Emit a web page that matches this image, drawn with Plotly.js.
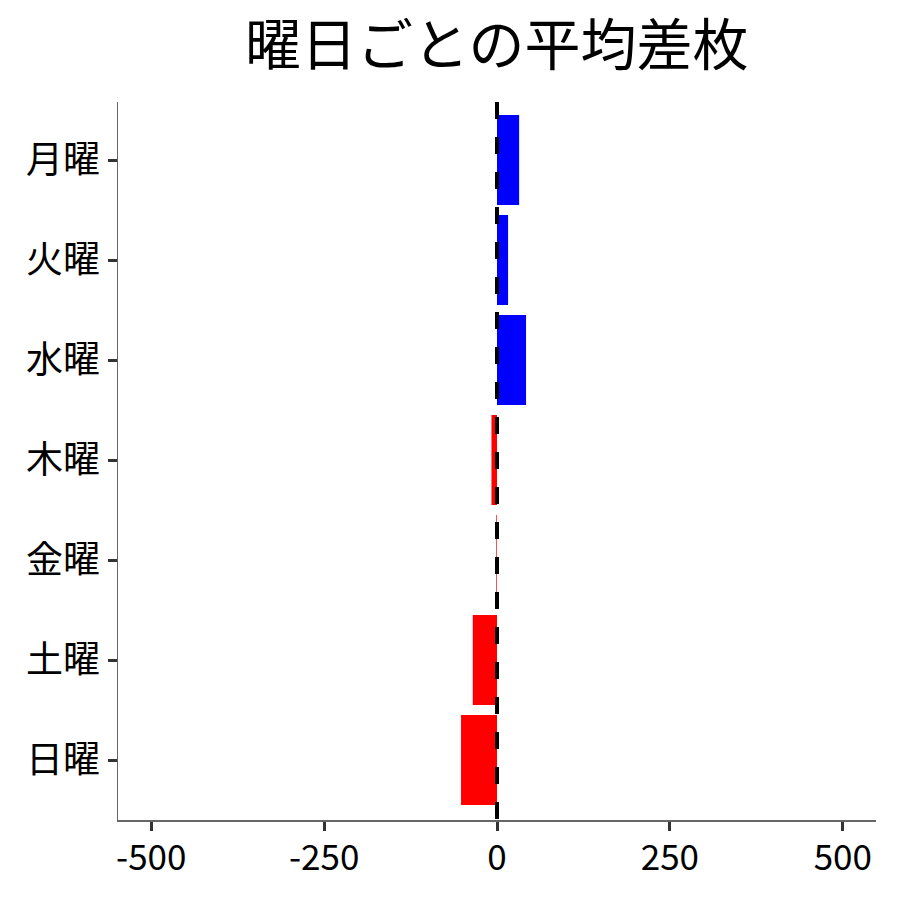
<!DOCTYPE html>
<html>
<head>
<meta charset="utf-8">
<script src="https://cdn.plot.ly/plotly-3.0.1.min.js"></script>
<style>html,body{margin:0;padding:0;background:#fff;}#chart{width:900px;height:900px;}</style>
</head>
<body>
<div id="chart"></div>
<script>
const days = ["月曜", "火曜", "水曜", "木曜", "金曜", "土曜", "日曜"];
const avgDiff = [32, 16, 42, -8, -1, -35, -52];
const xTickVals = [-500, -250, 0, 250, 500];
const xTickText = ["-500", "-250", "0", "250", "500"];
const chartTitle = "曜日ごとの平均差枚";

const colors = avgDiff.map(v => v >= 0 ? "#0000ff" : "#ff0000");
const font = "Noto Sans CJK JP, Noto Sans, sans-serif";

const trace = {
  type: "bar",
  orientation: "h",
  x: avgDiff,
  y: days,
  width: 0.9,
  marker: {color: colors, line: {width: 0}},
  hoverinfo: "x+y"
};

const layout = {
  width: 900, height: 900,
  margin: {l: 118, r: 24, t: 102, b: 80},
  paper_bgcolor: "#fff", plot_bgcolor: "#fff",
  showlegend: false,
  title: {text: chartTitle, font: {family: font, size: 56, color: "#000"}, x: 0.552, xanchor: "center", y: 0.95, yanchor: "middle"},
  xaxis: {
    range: [-548, 548],
    tickvals: xTickVals, ticktext: xTickText,
    showgrid: false, zeroline: false,
    showline: true, linecolor: "#666", linewidth: 1.5,
    ticks: "outside", ticklen: 9, tickwidth: 3, tickcolor: "#333",
    ticklabelstandoff: -3,
    tickfont: {family: font, size: 35, color: "#000"}
  },
  yaxis: {
    type: "category",
    categoryorder: "array", categoryarray: days,
    range: [6.6, -0.58],
    showgrid: false, zeroline: false,
    showline: true, linecolor: "#666", linewidth: 1.5,
    ticks: "outside", ticklen: 9, tickwidth: 3, tickcolor: "#333",
    tickfont: {family: font, size: 37, color: "#000"}
  },
  shapes: [{
    type: "line", xref: "x", yref: "paper",
    x0: 0, x1: 0, y0: 1, y1: -0.015,
    line: {color: "#000", width: 4, dash: "17px,18px"},
    layer: "above"
  }]
};

Plotly.newPlot("chart", [trace], layout, {displayModeBar: false, staticPlot: true});
</script>
</body>
</html>
